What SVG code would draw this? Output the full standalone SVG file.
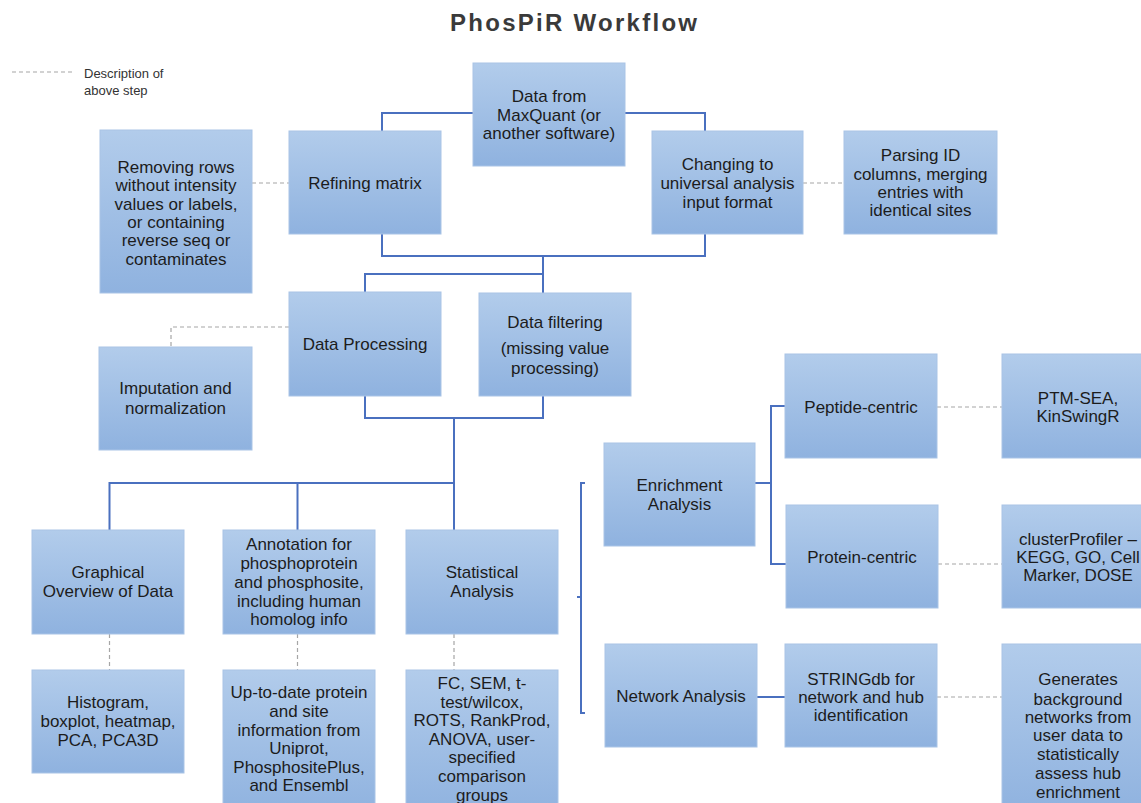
<svg xmlns="http://www.w3.org/2000/svg" width="1141" height="803" viewBox="0 0 1141 803">
<defs>
<linearGradient id="g" x1="0" y1="0" x2="0" y2="1">
<stop offset="0" stop-color="#b2cceb"/>
<stop offset="1" stop-color="#8fb2df"/>
</linearGradient>
<style>
.box{fill:url(#g);stroke:#a9c4e6;stroke-width:1}
.t{font-family:"Liberation Sans",Arial,sans-serif;font-size:17px;fill:#1c1c1c;text-anchor:middle}
.c{fill:none;stroke:#4a70bf;stroke-width:2}
.d{fill:none;stroke:#a6a6a6;stroke-width:1.2;stroke-dasharray:4 3}
.lg{font-family:"Liberation Sans",Arial,sans-serif;font-size:13px;fill:#333}
</style>
</defs>
<rect width="1141" height="803" fill="#ffffff"/>
<text x="573.5" y="31" font-family="Liberation Sans,Arial,sans-serif" font-size="24" font-weight="bold" fill="#3a3a3a" text-anchor="middle" textLength="247" lengthAdjust="spacing">PhosPiR Workflow</text>
<g id="legend">
<path class="d" d="M12,72 H74"/>
<text class="lg" x="84" y="78">Description of</text>
<text class="lg" x="84" y="95">above step</text>
</g>
<g id="connectors">
<path class="c" d="M473,113 H382 V131"/>
<path class="c" d="M625,113 H705 V131"/>
<path class="c" d="M382,234 V256 H705 V234"/>
<path class="c" d="M543,256 V293"/>
<path class="c" d="M365,293 V274 H543"/>
<path class="c" d="M365,396 V418 H543 V396"/>
<path class="c" d="M454,418 V530"/>
<path class="c" d="M109.5,530 V483 H454"/>
<path class="c" d="M297.5,483 V530"/>
<path class="c" d="M585,483 H581 V713 H585"/>
<path class="c" d="M581,597 H577"/>
<path class="c" d="M755,483 H771"/>
<path class="c" d="M785,406 H771 V564 H786"/>
<path class="c" d="M757,697 H785"/>
<path class="d" d="M252,183 H289"/>
<path class="d" d="M803,183 H844"/>
<path class="d" d="M289,327 H171 V347"/>
<path class="d" d="M109.5,634 V670"/>
<path class="d" d="M297.5,634 V670"/>
<path class="d" d="M454,634 V670"/>
<path class="d" d="M937,407 H1002"/>
<path class="d" d="M938,564 H1002"/>
<path class="d" d="M937,697 H1002"/>
</g>
<g id="maxquant"><rect class="box" x="473" y="63" width="152" height="103"/>
<text class="t" x="549" y="102">Data from</text><text class="t" x="549" y="121">MaxQuant (or</text><text class="t" x="549" y="139">another software)</text></g>
<g id="refining"><rect class="box" x="289" y="131" width="152" height="103"/>
<text class="t" x="365" y="189">Refining matrix</text></g>
<g id="removing"><rect class="box" x="100" y="130" width="152" height="163"/>
<text class="t" x="176" y="173">Removing rows</text><text class="t" x="176" y="191">without intensity</text><text class="t" x="176" y="209.5">values or labels,</text><text class="t" x="176" y="228">or containing</text><text class="t" x="176" y="246">reverse seq or</text><text class="t" x="176" y="264.5">contaminates</text></g>
<g id="changing"><rect class="box" x="652" y="131" width="151" height="103"/>
<text class="t" x="727.5" y="169.5">Changing to</text><text class="t" x="727.5" y="189">universal analysis</text><text class="t" x="727.5" y="207.5">input format</text></g>
<g id="parsing"><rect class="box" x="844" y="131" width="153" height="103"/>
<text class="t" x="920.5" y="161">Parsing ID</text><text class="t" x="920.5" y="180">columns, merging</text><text class="t" x="920.5" y="198">entries with</text><text class="t" x="920.5" y="216">identical sites</text></g>
<g id="dataprocessing"><rect class="box" x="289" y="292" width="152" height="104"/>
<text class="t" x="365" y="350">Data Processing</text></g>
<g id="datafiltering"><rect class="box" x="479" y="293" width="152" height="103"/>
<text class="t" x="555" y="328">Data filtering</text><text class="t" x="555" y="354">(missing value</text><text class="t" x="555" y="374">processing)</text></g>
<g id="imputation"><rect class="box" x="99" y="347" width="153" height="103"/>
<text class="t" x="175.5" y="394">Imputation and</text><text class="t" x="175.5" y="413.5">normalization</text></g>
<g id="graphical"><rect class="box" x="32" y="530" width="152" height="104"/>
<text class="t" x="108" y="578">Graphical</text><text class="t" x="108" y="597">Overview of Data</text></g>
<g id="annotation"><rect class="box" x="223" y="530" width="152" height="104"/>
<text class="t" x="299" y="550">Annotation for</text><text class="t" x="299" y="569">phosphoprotein</text><text class="t" x="299" y="588">and phosphosite,</text><text class="t" x="299" y="606.5">including human</text><text class="t" x="299" y="625">homolog info</text></g>
<g id="statistical"><rect class="box" x="406" y="530" width="152" height="104"/>
<text class="t" x="482" y="578">Statistical</text><text class="t" x="482" y="597">Analysis</text></g>
<g id="histogram"><rect class="box" x="32" y="670" width="152" height="103"/>
<text class="t" x="108" y="708">Histogram,</text><text class="t" x="108" y="727">boxplot, heatmap,</text><text class="t" x="108" y="745.5">PCA, PCA3D</text></g>
<g id="uptodate"><rect class="box" x="223" y="670" width="152" height="145"/>
<text class="t" x="299" y="698">Up-to-date protein</text><text class="t" x="299" y="716.5">and site</text><text class="t" x="299" y="735.5">information from</text><text class="t" x="299" y="754">Uniprot,</text><text class="t" x="299" y="772.5">PhosphositePlus,</text><text class="t" x="299" y="791">and Ensembl</text></g>
<g id="fc"><rect class="box" x="406" y="670" width="152" height="145"/>
<text class="t" x="482" y="689">FC, SEM, t-</text><text class="t" x="482" y="707.5">test/wilcox,</text><text class="t" x="482" y="726">ROTS, RankProd,</text><text class="t" x="482" y="744.5">ANOVA, user-</text><text class="t" x="482" y="763">specified</text><text class="t" x="482" y="782">comparison</text><text class="t" x="482" y="801">groups</text></g>
<g id="enrichment"><rect class="box" x="604" y="443" width="151" height="103"/>
<text class="t" x="679.5" y="490.5">Enrichment</text><text class="t" x="679.5" y="509.5">Analysis</text></g>
<g id="peptide"><rect class="box" x="785" y="354" width="152" height="104"/>
<text class="t" x="861" y="412.5">Peptide-centric</text></g>
<g id="protein"><rect class="box" x="786" y="505" width="152" height="103"/>
<text class="t" x="862" y="563">Protein-centric</text></g>
<g id="ptmsea"><rect class="box" x="1002" y="354" width="152" height="104"/>
<text class="t" x="1078" y="403.5">PTM-SEA,</text><text class="t" x="1078" y="422">KinSwingR</text></g>
<g id="clusterprofiler"><rect class="box" x="1002" y="505" width="152" height="103"/>
<text class="t" x="1078" y="544.5">clusterProfiler –</text><text class="t" x="1078" y="563">KEGG, GO, Cell</text><text class="t" x="1078" y="581">Marker, DOSE</text></g>
<g id="network"><rect class="box" x="605" y="644" width="152" height="103"/>
<text class="t" x="681" y="702">Network Analysis</text></g>
<g id="stringdb"><rect class="box" x="785" y="644" width="152" height="103"/>
<text class="t" x="861" y="684.5">STRINGdb for</text><text class="t" x="861" y="703">network and hub</text><text class="t" x="861" y="721">identification</text></g>
<g id="generates"><rect class="box" x="1002" y="644" width="152" height="170"/>
<text class="t" x="1078" y="684.5">Generates</text><text class="t" x="1078" y="704.5">background</text><text class="t" x="1078" y="723">networks from</text><text class="t" x="1078" y="741">user data to</text><text class="t" x="1078" y="759.5">statistically</text><text class="t" x="1078" y="779">assess hub</text><text class="t" x="1078" y="798">enrichment</text></g>
</svg>
